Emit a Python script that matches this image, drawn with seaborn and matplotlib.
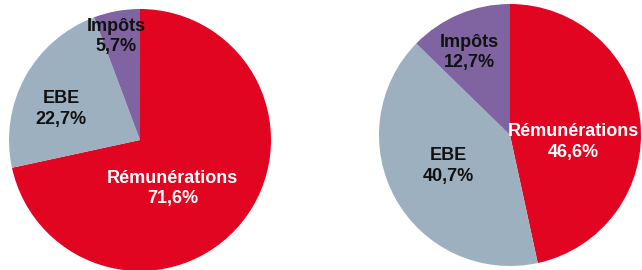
import numpy as np
import matplotlib
matplotlib.use("Agg")
import matplotlib.pyplot as plt
import seaborn as sns

# Répartition de la valeur ajoutée (deux périodes)
categories = ["Rémunérations", "EBE", "Impôts"]
left_values = [71.6, 22.7, 5.7]
right_values = [46.6, 40.7, 12.7]

colors = ["#E20521", "#9DB0C0", "#8064A2"]
text_colors = ["white", "#111111", "#111111"]

# label positions inside each pie (unit-radius coordinates)
left_pos = [(0.25, -0.37), (-0.60, 0.24), (-0.18, 0.79)]
right_pos = [(0.48, -0.05), (-0.47, -0.24), (-0.31, 0.63)]

sns.set_theme(style="white")
plt.rcParams["font.family"] = ["Liberation Sans", "DejaVu Sans"]

fig = plt.figure(figsize=(6.42, 2.70), dpi=100)
ax1 = fig.add_axes([9 / 642, -1 / 270, 262 / 642, 262 / 270])
ax2 = fig.add_axes([379 / 642, 4 / 270, 262 / 642, 262 / 270])


def draw_pie(ax, values, positions):
    ax.pie(values, colors=colors, startangle=90, counterclock=False,
           radius=1, wedgeprops=dict(linewidth=0))
    for cat, val, (x, y), tc in zip(categories, values, positions, text_colors):
        label = f"{cat}\n{val:.1f}%".replace(".", ",")
        ax.text(x, y, label, ha="center", va="center", color=tc,
                fontsize=13, fontweight="bold", linespacing=1.3)
    ax.set_xlim(-1, 1)
    ax.set_ylim(-1, 1)
    ax.set_aspect("equal")
    ax.axis("off")


draw_pie(ax1, left_values, left_pos)
draw_pie(ax2, right_values, right_pos)

fig.savefig("out.png", dpi=100, facecolor="white")
